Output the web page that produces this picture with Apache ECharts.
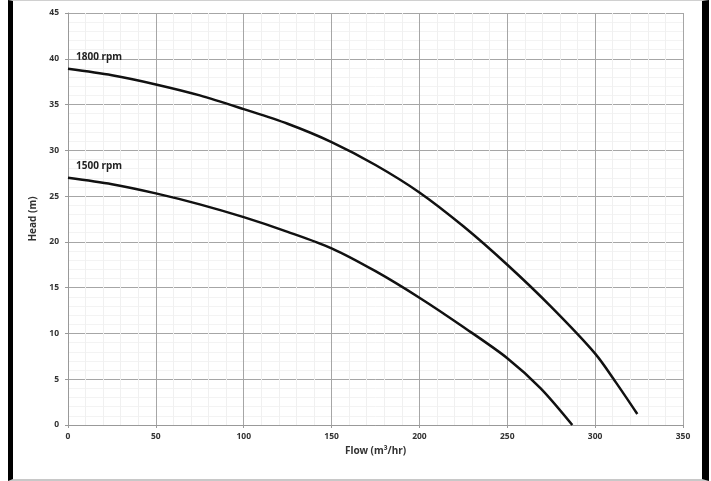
<!DOCTYPE html>
<html>
<head>
<meta charset="utf-8">
<script src="https://cdn.jsdelivr.net/npm/echarts@6/dist/echarts.min.js"></script>
<style>
html,body{margin:0;padding:0;background:#fff;}
#wrap{position:relative;width:711px;height:481px;}
#chart{position:absolute;left:0;top:0;width:711px;height:481px;}
#frame{position:absolute;left:8px;top:0;width:689px;height:478px;border-left:5px solid #000;border-right:7px solid #000;border-top:1px solid #d0d0d0;border-bottom:2px solid #c8c8c8;pointer-events:none;}
</style>
</head>
<body>
<div id="wrap"><div id="chart"></div><div id="frame"></div></div>
<script>
const seriesNames = ['1800 rpm', '1500 rpm'];
const flow1800 = [0, 25, 50, 75, 100, 125, 150, 175, 200, 225, 250, 275, 300, 312, 324];
const head1800 = [38.9, 38.2, 37.2, 36.0, 34.5, 32.9, 30.9, 28.4, 25.4, 21.7, 17.5, 12.9, 7.8, 4.6, 1.2];
const flow1500 = [0, 25, 50, 75, 100, 125, 150, 175, 200, 225, 250, 269, 287];
const head1500 = [27, 26.3, 25.3, 24.1, 22.7, 21.1, 19.3, 16.8, 13.9, 10.7, 7.3, 4.0, 0];
const xTicks = [0, 50, 100, 150, 200, 250, 300, 350];
const yTicks = [0, 5, 10, 15, 20, 25, 30, 35, 40, 45];

function pairs(xs, ys){ return xs.map((x,i)=>[x, ys[i]]); }

const font = 'Noto Sans';
function mkSeries(name, xs, ys){
  return {
    name: name, type:'line', smooth:0.3, showSymbol:false, symbol:'none',
    data: pairs(xs, ys), lineStyle:{color:'#111', width:2.5}, silent:true,
    markPoint:{
      silent:true, symbol:'circle', symbolSize:0.1,
      itemStyle:{color:'transparent'},
      label:{show:true, formatter:name, position:'right', distance:0, offset:[8,-12],
             fontFamily:font, fontWeight:'bold', fontSize:10, color:'#222'},
      data:[{coord:[xs[0], ys[0]]}]
    }
  };
}

const chart = echarts.init(document.getElementById('chart'), null, {renderer:'canvas'});
chart.setOption({
  animation:false,
  grid:{left:68, right:28, top:13, bottom:56, containLabel:false},
  xAxis:{
    type:'value', min:xTicks[0], max:xTicks[xTicks.length-1], interval:50,
    name:'Flow (m³/hr)', nameLocation:'middle', nameGap:20,
    nameTextStyle:{fontFamily:font, fontWeight:'bold', fontSize:10, color:'#333'},
    axisLine:{show:true, lineStyle:{color:'#999'}},
    axisTick:{show:true, length:3, lineStyle:{color:'#999'}},
    axisLabel:{fontFamily:font, fontWeight:'bold', fontSize:8.5, color:'#333', margin:7},
    splitLine:{show:true, lineStyle:{color:'#a6a6a6', width:1}},
    minorTick:{show:false, splitNumber:5},
    minorSplitLine:{show:true, lineStyle:{color:'#f0f0f0', width:1}}
  },
  yAxis:{
    type:'value', min:yTicks[0], max:yTicks[yTicks.length-1], interval:5,
    name:'Head (m)', nameLocation:'middle', nameGap:30, nameRotate:90,
    nameTextStyle:{fontFamily:font, fontWeight:'bold', fontSize:10, color:'#333'},
    axisLine:{show:true, lineStyle:{color:'#999'}},
    axisTick:{show:true, length:3, lineStyle:{color:'#999'}},
    axisLabel:{fontFamily:font, fontWeight:'bold', fontSize:8.5, color:'#333', margin:9},
    splitLine:{show:true, lineStyle:{color:'#a6a6a6', width:1}},
    minorTick:{show:false, splitNumber:5},
    minorSplitLine:{show:true, lineStyle:{color:'#f3f3f3', width:1}}
  },
  series:[
    mkSeries(seriesNames[0], flow1800, head1800),
    mkSeries(seriesNames[1], flow1500, head1500)
  ]
});
</script>
</body>
</html>
